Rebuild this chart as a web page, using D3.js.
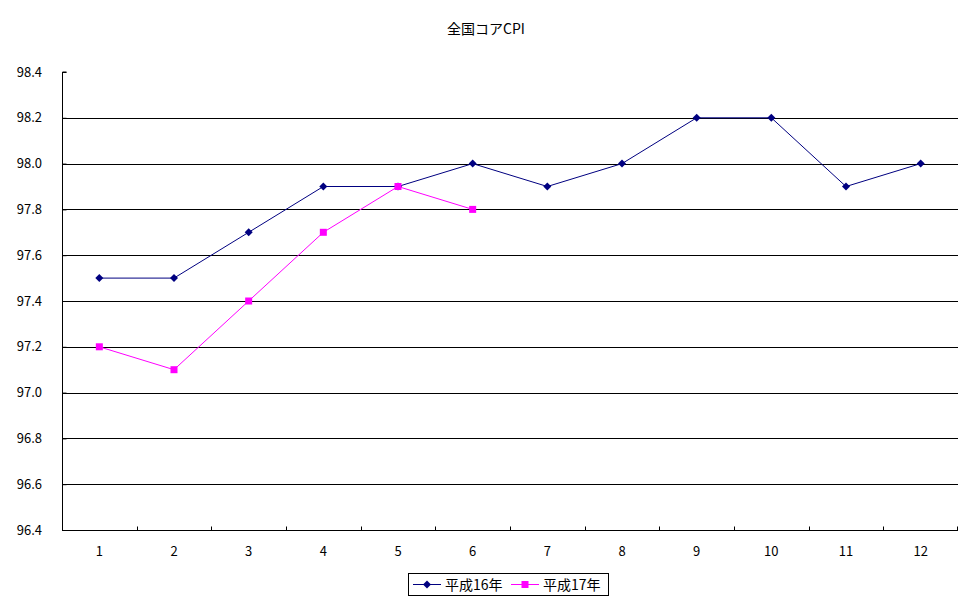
<!DOCTYPE html>
<html><head><meta charset="utf-8">
<script src="https://cdn.jsdelivr.net/npm/d3@7"></script>
<style>body{margin:0;background:#fff}svg{display:block}text{font-family:"Noto Sans CJK JP","DejaVu Sans",sans-serif}</style>
</head><body>
<svg id="c" width="972" height="604"></svg>
<script>
const title = "全国コアCPI";
const months = ["1","2","3","4","5","6","7","8","9","10","11","12"];
const seriesNames = ["平成16年","平成17年"];
const h16 = [97.5,97.5,97.7,97.9,97.9,98.0,97.9,98.0,98.2,98.2,97.9,98.0];
const h17 = [97.2,97.1,97.4,97.7,97.9,97.8];
const yTicks = [96.4,96.6,96.8,97.0,97.2,97.4,97.6,97.8,98.0,98.2,98.4];

const svg = d3.select("#c");
const L=62,R=958,T=72,B=530;
const x = d3.scaleBand().domain(months).range([L,R]);
const y = d3.scaleLinear().domain([96.4,98.4]).range([B,T]);

svg.append("text").attr("x",486).attr("y",34).attr("text-anchor","middle").attr("font-size",14).text(title);

// gridlines
svg.append("g").selectAll("line").data(yTicks.slice(1,-1)).join("line")
  .attr("x1",L).attr("x2",R).attr("y1",d=>Math.round(y(d))+0.5).attr("y2",d=>Math.round(y(d))+0.5)
  .attr("stroke","#000").attr("stroke-width",1);

// y axis
const ya = svg.append("g").attr("transform",`translate(${L+0.5},0)`)
  .call(d3.axisRight(y).tickValues(yTicks).tickSize(4).tickFormat(""));
ya.select(".domain").attr("d",`M4,${T}H0V${B}`);
svg.append("g").selectAll("text").data(yTicks).join("text")
  .attr("x",42).attr("y",d=>y(d)).attr("dy","0.35em").attr("text-anchor","end").attr("font-size",13)
  .text(d=>d.toFixed(1));

// x axis
const xa = svg.append("g").attr("transform",`translate(0,${B+0.5})`);
xa.append("line").attr("x1",L).attr("x2",R).attr("stroke","#000");
xa.selectAll("line.t").data(months.slice(1)).join("line").attr("class","t")
  .attr("x1",d=>Math.round(x(d))+0.5).attr("x2",d=>Math.round(x(d))+0.5).attr("y1",0).attr("y2",-4).attr("stroke","#000");
xa.append("line").attr("x1",R-0.5).attr("x2",R-0.5).attr("y1",0).attr("y2",-4).attr("stroke","#000");
svg.append("g").selectAll("text").data(months).join("text")
  .attr("x",d=>x(d)+x.bandwidth()/2).attr("y",556).attr("text-anchor","middle").attr("font-size",13).text(d=>d);

const cx = i=>x(months[i])+x.bandwidth()/2;
const line = d3.line().x((d,i)=>cx(i)).y(d=>y(d));
const diamondPath = "M0,-4L4,0L0,4L-4,0Z";
function drawSeries(data,color,marker){
  svg.append("path").attr("d",line(data)).attr("fill","none").attr("stroke",color).attr("stroke-width",1);
  const g = svg.append("g");
  data.forEach((d,i)=>{
    if(marker==="d") g.append("path").attr("d",diamondPath).attr("transform",`translate(${cx(i)},${y(d)})`).attr("fill",color);
    else g.append("rect").attr("x",cx(i)-3.5).attr("y",y(d)-3.5).attr("width",7).attr("height",7).attr("fill",color);
  });
}
drawSeries(h16,"#000080","d");
drawSeries(h17,"#FF00FF","s");

// legend
const lg = svg.append("g");
lg.append("rect").attr("x",408.5).attr("y",573.5).attr("width",200).attr("height",22).attr("fill","#fff").attr("stroke","#000");
lg.append("line").attr("x1",413).attr("x2",441).attr("y1",584.5).attr("y2",584.5).attr("stroke","#000080");
lg.append("path").attr("d",diamondPath).attr("transform","translate(427,584.5)").attr("fill","#000080");
lg.append("text").attr("x",445).attr("y",584.5).attr("dy","0.36em").attr("font-size",14).text(seriesNames[0]);
lg.append("line").attr("x1",511).attr("x2",539).attr("y1",584.5).attr("y2",584.5).attr("stroke","#FF00FF");
lg.append("rect").attr("x",521.5).attr("y",581).attr("width",7).attr("height",7).attr("fill","#FF00FF");
lg.append("text").attr("x",543).attr("y",584.5).attr("dy","0.36em").attr("font-size",14).text(seriesNames[1]);
</script>
</body></html>
